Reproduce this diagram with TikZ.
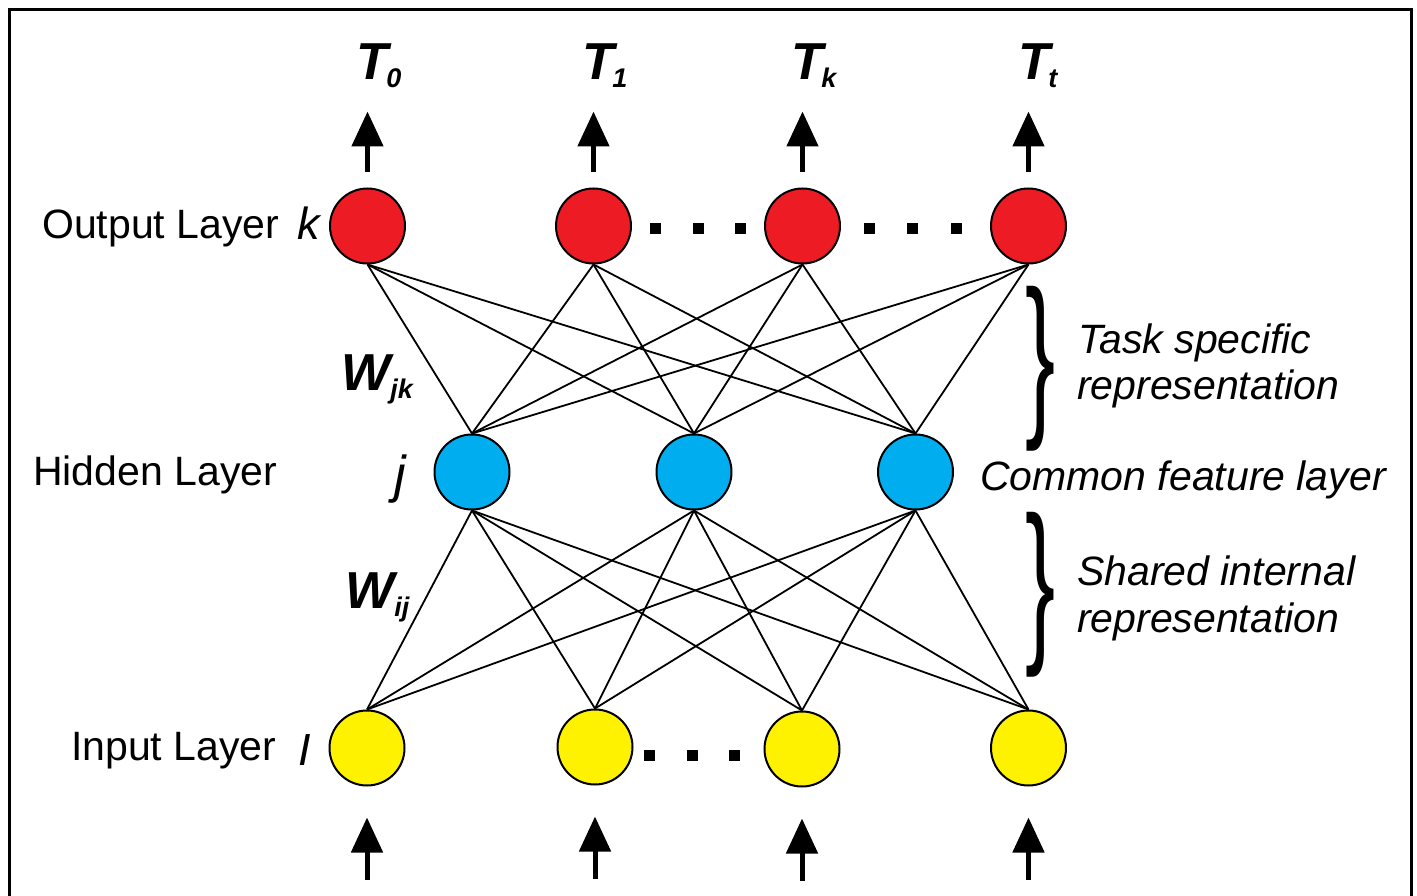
\documentclass[tikz,border=0pt]{standalone}
\usepackage{fontspec}
\setmainfont{Liberation Sans}
\usetikzlibrary{arrows.meta,calc}
\definecolor{outred}{HTML}{ED1C24}
\definecolor{hidblue}{HTML}{00AEEF}
\definecolor{inyellow}{HTML}{FFF200}
% lowered, smaller index for the bold italic labels
\newcommand{\lowidx}[1]{\raisebox{-8pt}{\fontsize{27}{30}\selectfont #1}}
% a tall curly brace made from the font's glyph
\newcommand{\tallbrace}{\scalebox{1.5}[2.95]{\fontsize{60}{60}\selectfont\}}}
\begin{document}
\begin{tikzpicture}[x=1pt,y=-1pt,
  neuron/.style={circle,draw=black,line width=2pt,minimum size=75pt,inner sep=0pt},
  outn/.style={neuron,fill=outred},
  hidn/.style={neuron,fill=hidblue},
  inn/.style={neuron,fill=inyellow},
  edge/.style={line width=1.8pt},
  flow/.style={line width=5pt,-{Triangle[length=35pt,width=31pt]}},
  lbl/.style={font=\fontsize{41}{49}\selectfont,inner sep=0pt},
  ilbl/.style={font=\fontsize{41}{49}\selectfont\itshape,inner sep=0pt},
  vlbl/.style={font=\fontsize{45}{52}\selectfont\itshape,inner sep=0pt},
  blbl/.style={font=\fontsize{52}{60}\selectfont\bfseries\itshape,inner sep=0pt},
  brc/.style={inner sep=0pt},
  sq/.style={fill=black}
]
\useasboundingbox (0,0) rectangle (1417,896);
\fill[white] (0,0) rectangle (1417,896);
\draw[line width=3pt] (9,10) rectangle (1411,920);

% neurons
\node[outn] (o0) at (367.5,226) {};
\node[outn] (o1) at (593.5,226) {};
\node[outn] (o2) at (802.5,226) {};
\node[outn] (o3) at (1028.5,226) {};
\node[hidn] (h0) at (472,472) {};
\node[hidn] (h1) at (694,472) {};
\node[hidn] (h2) at (915.5,472) {};
\node[inn] (i0) at (367,748) {};
\node[inn] (i1) at (595,747) {};
\node[inn] (i2) at (802,749) {};
\node[inn] (i3) at (1028.5,748) {};

% full connections between layers
\foreach \o in {o0,o1,o2,o3}
  \foreach \h in {h0,h1,h2}
    \draw[edge] (\o.south) -- (\h.north);
\foreach \h in {h0,h1,h2}
  \foreach \i in {i0,i1,i2,i3}
    \draw[edge] (\h.south) -- (\i.north);

% outputs and inputs
\foreach \o in {o0,o1,o2,o3}
  \draw[flow] ($(\o.north)+(0,-15)$) -- ++(0,-61);
\foreach \i in {i0,i1,i2,i3}
  \draw[flow] ($(\i.south)+(0,93)$) -- ++(0,-62);

% ellipsis dots
\foreach \x in {655,698,740.5,869,912.5,956}
  \fill[sq] (\x-5.5,229-5.5) rectangle ++(11,11);
\foreach \x in {649.5,692.5,734.5}
  \fill[sq] (\x-5.5,755-5.5) rectangle ++(11,11);

% task labels
\node[blbl,anchor=base] (T0) at (379,80) {T\kern-2pt\lowidx{0}};
\node[blbl,anchor=base] (T1) at (605,80) {T\kern-2pt\lowidx{1}};
\node[blbl,anchor=base] (Tk) at (814,80) {T\kern-2pt\lowidx{k}};
\node[blbl,anchor=base] (Tt) at (1038,80) {T\kern-2pt\lowidx{t}};

% layer names
\node[lbl,anchor=base west] (outname) at (42,239) {Output Layer};
\node[vlbl,anchor=base west] (kname) at (297,240) {k};
\node[lbl,anchor=base west] (hidname) at (33,485) {Hidden Layer};
\node[vlbl,anchor=base west,font=\fontsize{52}{60}\selectfont\itshape] (jname) at (394,492) {j};
\node[lbl,anchor=base west] (inname) at (71,760) {Input Layer};
\node[vlbl,anchor=base west] (iname) at (298,765) {I};

% weights
\node[blbl,anchor=base west] (wjk) at (341,390) {W\lowidx{jk}};
\node[blbl,anchor=base west] (wij) at (345,608) {W\lowidx{ij}};

% braces and their descriptions
\node[brc] (brace1) at (1041,369) {\tallbrace};
\node[brc] (brace2) at (1041,595) {\tallbrace};
\node[ilbl,anchor=base west] (task1) at (1078,353) {Task specific};
\node[ilbl,anchor=base west] (task2) at (1077,399) {representation};
\node[ilbl,anchor=base west] (common) at (980,490) {Common feature layer};
\node[ilbl,anchor=base west] (shared1) at (1077,585) {Shared internal};
\node[ilbl,anchor=base west] (shared2) at (1077,632) {representation};
\end{tikzpicture}
\end{document}
